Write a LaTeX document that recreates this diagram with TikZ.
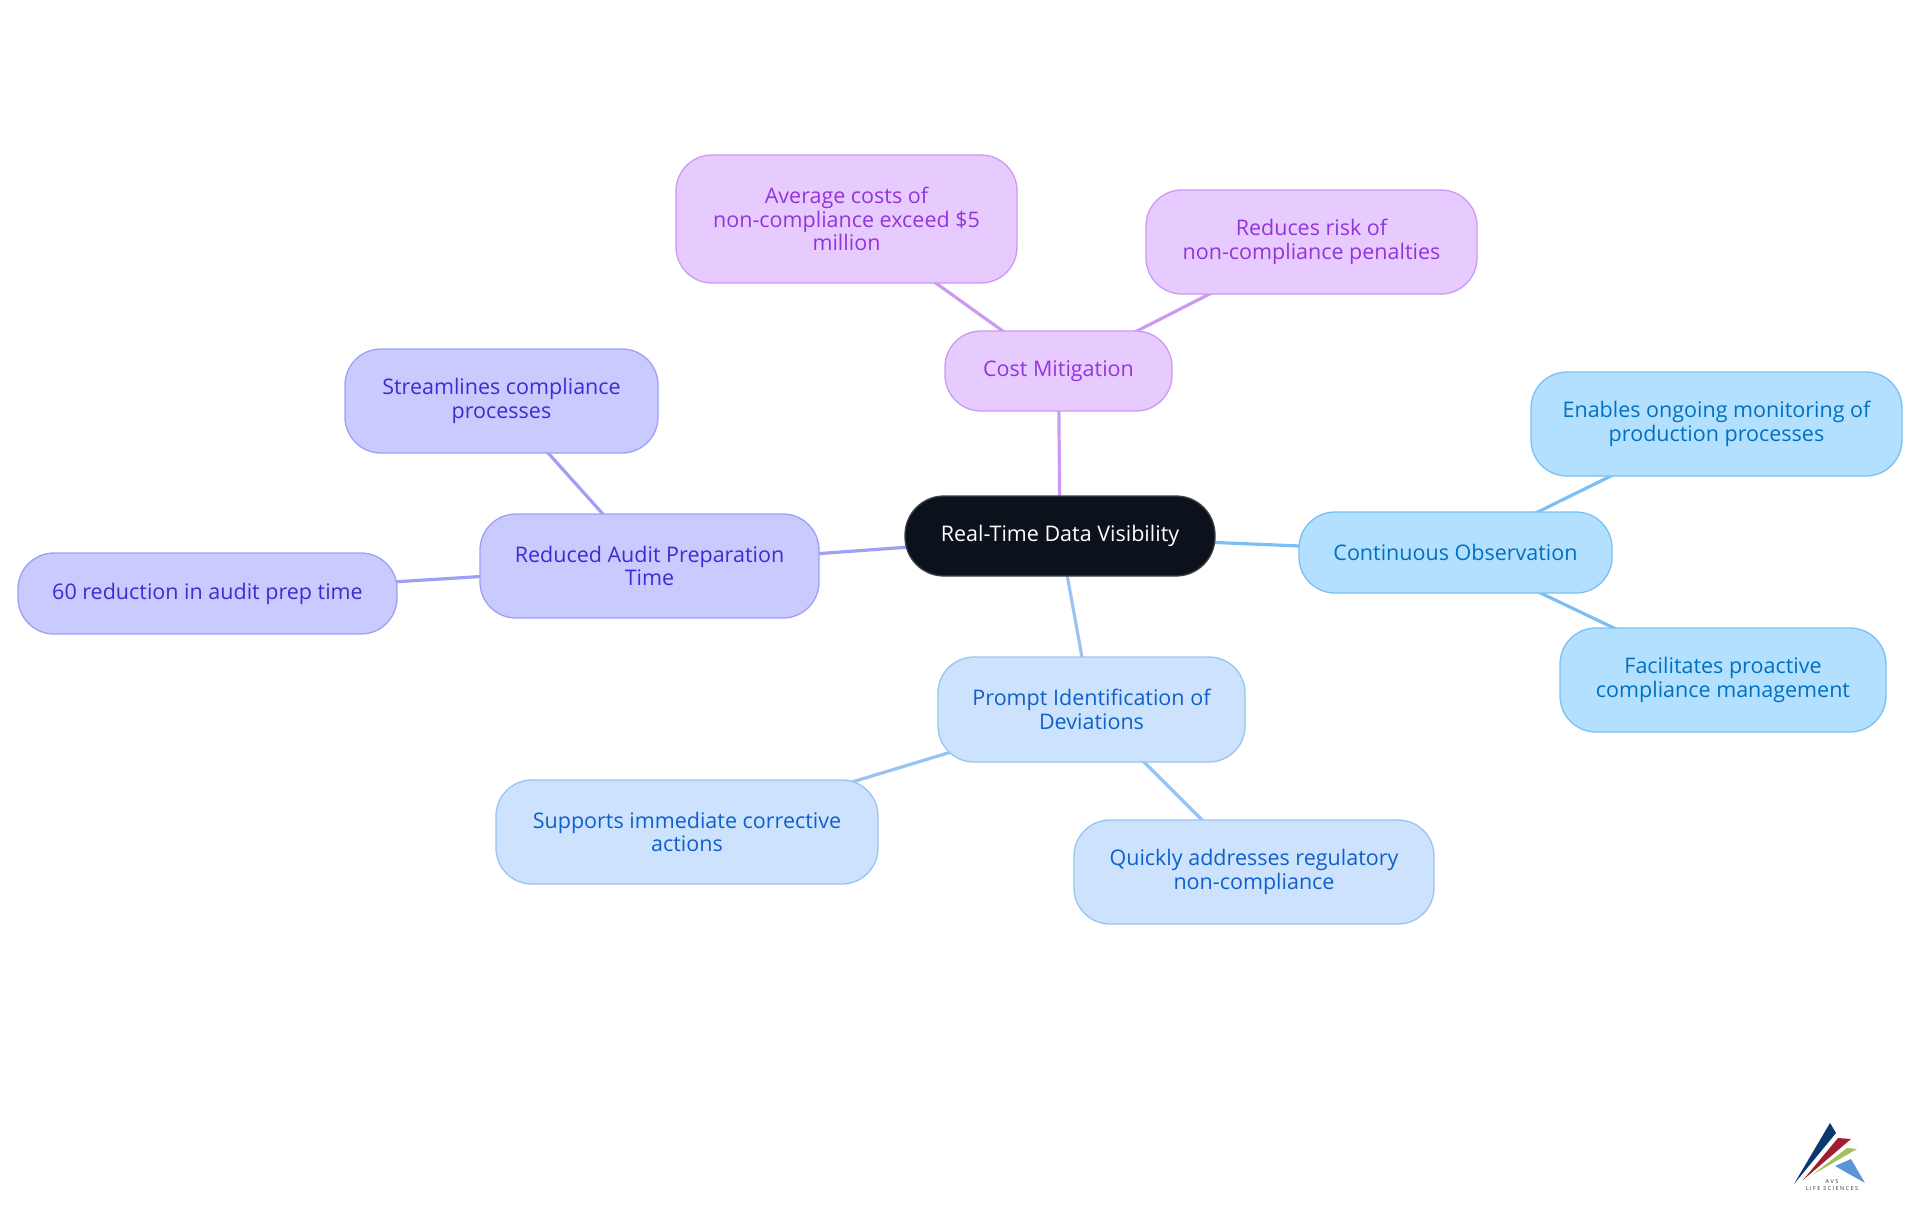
\documentclass[tikz,border=0pt]{standalone}
\usepackage{fontspec}
\setmainfont{Open Sans}
\usetikzlibrary{backgrounds}
\definecolor{rootc}{HTML}{0B121B}
\definecolor{pf}{HTML}{E8CBFE}\definecolor{ps}{HTML}{C99BF1}\definecolor{pt}{HTML}{9333DE}
\definecolor{sf}{HTML}{B4E0FF}\definecolor{ss}{HTML}{7CC0F3}\definecolor{st}{HTML}{0070C0}
\definecolor{bf}{HTML}{CDE3FD}\definecolor{bs}{HTML}{99C4F2}\definecolor{bt}{HTML}{0F5FCC}
\definecolor{nf}{HTML}{C9CBFF}\definecolor{ns}{HTML}{9F9FF5}\definecolor{nt}{HTML}{3B2DD1}
\tikzset{x=1pt,y=-1pt,
 box/.style={rectangle,rounded corners=36pt,align=center,inner sep=0pt,line width=1.3pt,font=\fontsize{21.5pt}{23.5pt}\selectfont},
 rootbox/.style={box,rounded corners=39pt,fill=rootc,draw=rootc!80!white,text=white},
 purplebox/.style={box,fill=pf,draw=ps,text=pt},
 skybox/.style={box,fill=sf,draw=ss,text=st},
 bluebox/.style={box,fill=bf,draw=bs,text=bt},
 indigobox/.style={box,fill=nf,draw=ns,text=nt},
 link/.style={line width=3.2pt}}
\newcommand{\mapnode}[7]{\node[#1,minimum width=#5pt-#3pt,minimum height=#6pt-#4pt] (#2) at ({(#3+#5)/2},{(#4+#6)/2}) {#7};}
\begin{document}
\begin{tikzpicture}
\useasboundingbox (0,0) rectangle (1920,1215);
\mapnode{rootbox}{root}{905}{496}{1215}{576}{Real-Time Data Visibility}
\mapnode{purplebox}{cost}{945}{331}{1172}{411}{Cost Mitigation}
\mapnode{purplebox}{avg}{676}{155}{1017}{283}{Average costs of\\non-compliance exceed \$5\\million}
\mapnode{purplebox}{risk}{1146}{190}{1477}{294}{Reduces risk of\\non-compliance penalties}
\mapnode{skybox}{cont}{1299}{512}{1612}{593}{Continuous Observation}
\mapnode{skybox}{enab}{1531}{372}{1902}{476}{Enables ongoing monitoring of\\production processes}
\mapnode{skybox}{faci}{1560}{628}{1886}{732}{Facilitates proactive\\compliance management}
\mapnode{bluebox}{prom}{938}{657}{1245}{762}{Prompt Identification of\\Deviations}
\mapnode{bluebox}{supp}{496}{780}{878}{884}{Supports immediate corrective\\actions}
\mapnode{bluebox}{quic}{1074}{820}{1434}{924}{Quickly addresses regulatory\\non-compliance}
\mapnode{indigobox}{redu}{480}{514}{819}{618}{Reduced Audit Preparation\\Time}
\mapnode{indigobox}{stre}{345}{349}{658}{453}{Streamlines compliance\\processes}
\mapnode{indigobox}{sixt}{18}{553}{397}{634}{60 reduction in audit prep time}
\begin{pgfonlayer}{background}
\draw[link,ps] (root.center) -- (cost.center);
\draw[link,ps] (cost.center) -- (avg.center);
\draw[link,ps] (cost.center) -- (risk.center);
\draw[link,ss] (root.center) -- (cont.center);
\draw[link,ss] (cont.center) -- (enab.center);
\draw[link,ss] (cont.center) -- (faci.center);
\draw[link,bs] (root.center) -- (prom.center);
\draw[link,bs] (prom.center) -- (supp.center);
\draw[link,bs] (prom.center) -- (quic.center);
\draw[link,ns] (root.center) -- (redu.center);
\draw[link,ns] (redu.center) -- (stre.center);
\draw[link,ns] (redu.center) -- (sixt.center);
\end{pgfonlayer}
% logo
\fill[fill={rgb,255:red,10;green,55;blue,110}] (1830,1123) -- (1836,1133) -- (1794,1184) -- cycle;
\fill[fill={rgb,255:red,160;green,30;blue,50}] (1838,1138) -- (1851,1139) -- (1803,1180) -- cycle;
\fill[fill={rgb,255:red,165;green,190;blue,100}] (1847,1148) -- (1857,1149) -- (1812,1175) -- cycle;
\fill[fill={rgb,255:red,90;green,150;blue,215}] (1851,1159) -- (1865,1183) -- (1835,1166) -- cycle;
\node[inner sep=0pt,font=\fontsize{5.5pt}{6pt}\selectfont,text=black!80] (logoa) at (1832,1182) {A V S};
\node[inner sep=0pt,font=\fontsize{5.5pt}{6pt}\selectfont,text=black!80] (logob) at (1832,1189) {L I F E\ \ S C I E N C E S};
\end{tikzpicture}
\end{document}
